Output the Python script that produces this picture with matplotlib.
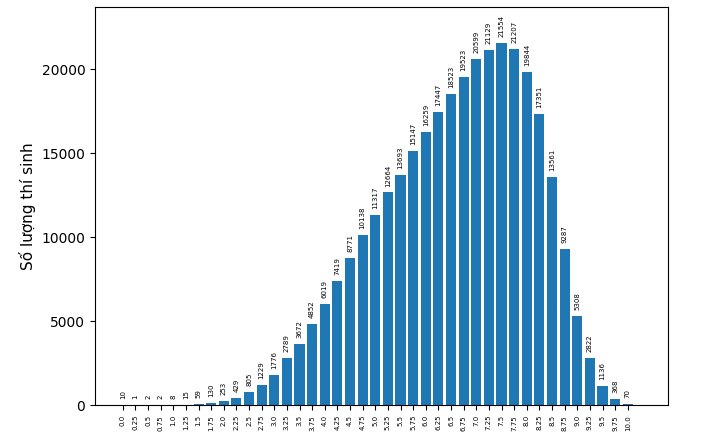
import matplotlib.pyplot as plt

diem = ["0.0", "0.25", "0.5", "0.75", "1.0", "1.25", "1.5", "1.75", "2.0", "2.25",
        "2.5", "2.75", "3.0", "3.25", "3.5", "3.75", "4.0", "4.25", "4.5", "4.75",
        "5.0", "5.25", "5.5", "5.75", "6.0", "6.25", "6.5", "6.75", "7.0", "7.25",
        "7.5", "7.75", "8.0", "8.25", "8.5", "8.75", "9.0", "9.25", "9.5", "9.75", "10.0"]
so_luong = [10, 1, 2, 2, 8, 15, 59, 130, 253, 429,
            805, 1229, 1776, 2789, 3672, 4852, 6019, 7419, 8771, 10138,
            11317, 12664, 13693, 15147, 16259, 17447, 18523, 19523, 20599, 21129,
            21554, 21207, 19844, 17351, 13561, 9287, 5308, 2822, 1136, 368, 70]

fig = plt.figure(figsize=(7.2, 4.32), dpi=100)
ax = fig.add_axes([0.132, 0.062, 0.796, 0.922])
x = range(len(diem))
bars = ax.bar(x, so_luong, width=0.8, color="#1f77b4")
for b, v in zip(bars, so_luong):
    ax.text(b.get_x() + b.get_width() / 2, v + 350, str(v), rotation=90,
            ha="center", va="bottom", fontsize=5)
ax.set_xticks(list(x))
ax.set_xticklabels(diem, rotation=90, fontsize=5)
ax.set_xlim(-2.2, 43.2)
ax.set_ylim(0, 23700)
ax.set_ylabel("Số lượng thí sinh", fontsize=11)
ax.tick_params(axis="y", labelsize=10)
fig.savefig("out.png")
